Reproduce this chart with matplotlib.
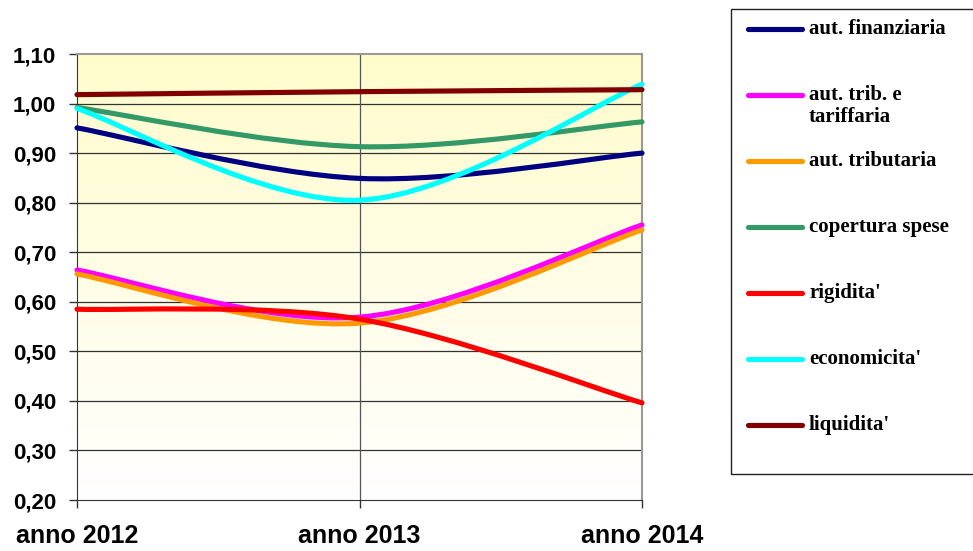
import matplotlib
matplotlib.use("Agg")
import matplotlib.pyplot as plt
import matplotlib.patches as mpatches
from matplotlib.path import Path
from matplotlib.lines import Line2D
from matplotlib.colors import LinearSegmentedColormap
import numpy as np

# data
years = ["anno 2012", "anno 2013", "anno 2014"]
aut_finanziaria = [0.951, 0.849, 0.900]
aut_trib_tariffaria = [0.664, 0.569, 0.755]
aut_tributaria = [0.656, 0.557, 0.745]
copertura_spese = [0.992, 0.913, 0.963]
rigidita = [0.585, 0.565, 0.396]
economicita = [0.990, 0.805, 1.039]
liquidita = [1.018, 1.024, 1.028]

labels = ["aut. finanziaria", "aut. trib. e\ntariffaria", "aut. tributaria",
          "copertura spese", "rigidita'", "economicita'", "liquidita'"]
series = [aut_finanziaria, aut_trib_tariffaria, aut_tributaria,
          copertura_spese, rigidita, economicita, liquidita]
colors = ['#000080', '#FF00FF', '#FF9900', '#339966', '#FF0000', '#00FFFF', '#800000']

y_ticks = np.arange(0.2, 1.101, 0.1)

W, H = 973, 551


# smoothed line like the spreadsheet: Catmull-Rom style bezier segments
def smooth_path(xs, ys):
    pts = np.column_stack([xs, ys]).astype(float)
    n = len(pts)
    verts = [pts[0]]
    codes = [Path.MOVETO]
    for i in range(n - 1):
        p_prev = pts[i - 1] if i > 0 else pts[i]
        p_next = pts[i + 2] if i + 2 < n else pts[i + 1]
        c1 = pts[i] + (pts[i + 1] - p_prev) / 6.0
        c2 = pts[i + 1] - (p_next - pts[i]) / 6.0
        verts += [c1, c2, pts[i + 1]]
        codes += [Path.CURVE4] * 3
    return Path(verts, codes)


fig = plt.figure(figsize=(W / 100, H / 100), dpi=100)
ax = fig.add_axes([77 / W, 1 - 500 / H, 565 / W, 446 / H])

x = np.arange(len(years))
ax.set_xlim(0, len(years) - 1)
ax.set_ylim(0.2, 1.1)

# yellow to white gradient background
cmap = LinearSegmentedColormap.from_list('bg', ['#FFFFFF', '#FFFCCC'])
grad = np.linspace(0, 1, 256).reshape(-1, 1)
ax.imshow(grad, cmap=cmap, origin='lower', aspect='auto',
          extent=[0, len(years) - 1, 0.2, 1.1], zorder=0)

# grid
for yv in y_ticks[1:-1]:
    ax.axhline(yv, color='#333333', lw=0.9, zorder=1)
ax.axvline(1, color='#555555', lw=0.9, zorder=1)

for k, (vals, col) in enumerate(zip(series, colors)):
    patch = mpatches.PathPatch(smooth_path(x, vals), facecolor='none', edgecolor=col,
                               lw=3.7, capstyle='round', joinstyle='round',
                               zorder=3 + k, clip_on=False)
    ax.add_patch(patch)

ax.set_yticks(y_ticks)
ax.set_yticklabels(['{:.2f}'.format(v).replace('.', ',') for v in y_ticks],
                   fontfamily='Liberation Sans', fontweight='bold', fontsize=16)
ax.set_xticks(x)
ax.set_xticklabels(years, fontfamily='Liberation Sans', fontweight='bold', fontsize=18)
ax.tick_params(axis='y', length=6, width=1, color='#333333', pad=9)
ax.tick_params(axis='x', length=6, width=1, color='#333333', pad=11)

ax.spines['left'].set_color('#333333')
ax.spines['bottom'].set_color('#333333')
ax.spines['top'].set_color('#999999')
ax.spines['right'].set_color('#999999')
ax.spines['top'].set_linewidth(1.5)
ax.spines['right'].set_linewidth(1.5)

# legend box drawn by hand
box = mpatches.Rectangle((731 / W, 1 - 474 / H), 260 / W, 465 / H,
                         transform=fig.transFigure, fill=False,
                         edgecolor='#222222', lw=1, clip_on=False)
fig.add_artist(box)
for i, (lab, col) in enumerate(zip(labels, colors)):
    yp = 29 + 66 * i
    fig.add_artist(Line2D([748 / W, 802 / W], [1 - yp / H, 1 - yp / H],
                          transform=fig.transFigure, color=col, lw=3.7,
                          solid_capstyle='round'))
    fig.text(809 / W, 1 - (yp - 10) / H, lab, ha='left', va='top',
             fontfamily='Liberation Serif', fontweight='bold', fontsize=15,
             linespacing=1.12)

plt.savefig('out.png', dpi=100)
